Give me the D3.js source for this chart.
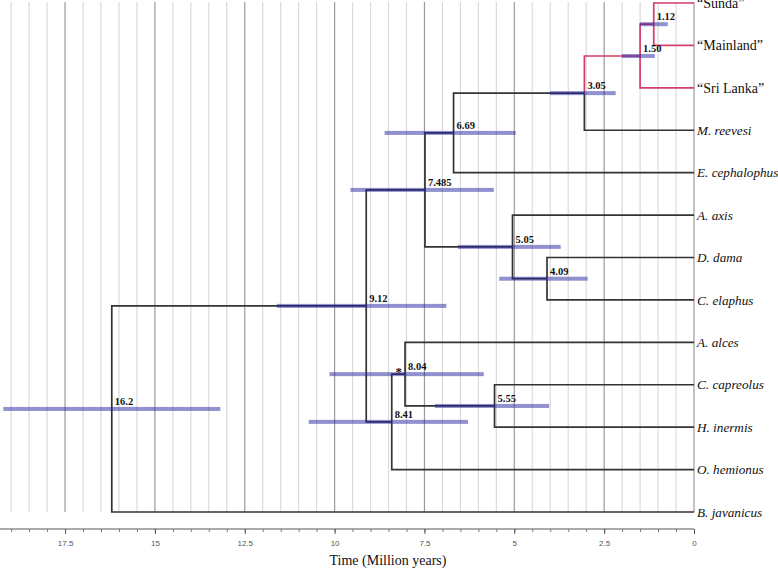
<!DOCTYPE html>
<html>
<head>
<meta charset="utf-8">
<script src="https://cdn.jsdelivr.net/npm/d3@7"></script>
<style>
  html, body { margin: 0; padding: 0; background: #fff; }
  svg { display: block; }
</style>
</head>
<body>
<svg id="chart" width="778" height="570"></svg>
<script>
// ---------------- DATA ----------------
const tipNames = ["\u201cSunda\u201d", "\u201cMainland\u201d", "\u201cSri Lanka\u201d", "M. reevesi", "E. cephalophus",
  "A. axis", "D. dama", "C. elaphus", "A. alces", "C. capreolus", "H. inermis", "O. hemionus", "B. javanicus"];
const tipItalic = [false, false, false, true, true, true, true, true, true, true, true, true, true];
const tipParent = [0, 0, 1, 2, 3, 5, 6, 6, 8, 9, 9, 10, 11];

const nodeLabels = ["1.12", "1.50", "3.05", "6.69", "7.485", "5.05", "4.09", "9.12", "8.04", "5.55", "8.41", "16.2"];
const nodeAges   = [1.12, 1.50, 3.05, 6.69, 7.485, 5.05, 4.09, 9.12, 8.04, 5.55, 8.41, 16.2];
const nodeParent = [1, 2, 3, 4, 7, 4, 5, 11, 10, 8, 7, -1];
const ciLow  = [0.73, 1.09, 2.18, 4.96, 5.57, 3.71, 2.96, 6.89, 5.85, 4.03, 6.29, 13.18];
const ciHigh = [1.50, 2.01, 4.01, 8.61, 9.56, 6.57, 5.42, 11.61, 10.14, 7.21, 10.72, 19.22];
const starNodes = [8];            // node marked with *
const redTips = [0, 1, 2];
const redNodes = [0, 1];

const majorTicks = [17.5, 15, 12.5, 10, 7.5, 5, 2.5, 0];
const majorTickLabels = ["17.5", "15", "12.5", "10", "7.5", "5", "2.5", "0"];
const minorTicks = d3.range(0, 19.01, 0.5);
const axisTitle = "Time (Million years)";

// ---------------- LAYOUT ----------------
const svg = d3.select("#chart");
const x = d3.scaleLinear().domain([19.31, 0]).range([0, 694]);
const y = d3.scalePoint().domain(d3.range(tipNames.length)).range([3, 512]);

const BLACK = "#333333";
const RED = "#d63c68";

// grid lines
const gridTop = 2, gridBottom = 512;
svg.append("g").selectAll("line").data(minorTicks).join("line")
  .attr("x1", d => x(d)).attr("x2", d => x(d))
  .attr("y1", gridTop).attr("y2", gridBottom)
  .attr("stroke", d => (Math.abs(d / 2.5 - Math.round(d / 2.5)) < 1e-6) ? "#9a9a9a" : "#dadada")
  .attr("stroke-width", 1.2);

// compute node geometry
const nNodes = nodeAges.length;
const nodeY = new Array(nNodes);
const childrenOf = d3.range(nNodes).map(() => []);
tipParent.forEach((p, i) => childrenOf[p].push({type: "tip", i}));
nodeParent.forEach((p, i) => { if (p >= 0) childrenOf[p].push({type: "node", i}); });
function childY(c) { return c.type === "tip" ? y(c.i) : getNodeY(c.i); }
function childX(c) { return c.type === "tip" ? x(0) : x(nodeAges[c.i]); }
function getNodeY(i) {
  if (nodeY[i] === undefined) {
    const ys = childrenOf[i].map(childY);
    nodeY[i] = (d3.min(ys) + d3.max(ys)) / 2;
  }
  return nodeY[i];
}
d3.range(nNodes).forEach(getNodeY);

function isRed(c) { return c.type === "tip" ? redTips.includes(c.i) : redNodes.includes(c.i); }

// branches: for each node, elbow to each child
const branchG = svg.append("g").attr("fill", "none").attr("stroke-width", 1.7);
d3.range(nNodes).forEach(i => {
  const nx = x(nodeAges[i]), ny = nodeY[i];
  childrenOf[i].forEach(c => {
    const cy = childY(c), cx = childX(c);
    branchG.append("path")
      .attr("d", `M${nx},${ny}V${cy}H${cx}`)
      .attr("stroke", isRed(c) ? RED : BLACK)
      .attr("stroke-linejoin", "miter");
  });
});

// CI bars
svg.append("g").selectAll("rect").data(d3.range(nNodes)).join("rect")
  .attr("x", i => x(ciHigh[i]))
  .attr("width", i => x(ciLow[i]) - x(ciHigh[i]))
  .attr("y", i => nodeY[i] - 2)
  .attr("height", 4)
  .attr("fill", "#2424a0")
  .attr("fill-opacity", 0.5);

// node labels
svg.append("g").selectAll("text").data(d3.range(nNodes)).join("text")
  .attr("x", i => x(nodeAges[i]) + 3)
  .attr("y", i => nodeY[i] - 4)
  .attr("font-family", "Liberation Serif, serif")
  .attr("font-weight", "bold")
  .attr("font-size", 10.5)
  .attr("fill", "#111")
  .text(i => nodeLabels[i]);

svg.append("g").selectAll("text").data(starNodes).join("text")
  .attr("x", i => x(nodeAges[i]) - 3)
  .attr("y", i => nodeY[i] + 2)
  .attr("text-anchor", "end")
  .attr("font-family", "Liberation Serif, serif")
  .attr("font-weight", "bold")
  .attr("font-size", 13)
  .attr("fill", "#111")
  .text("*");

// tip labels
svg.append("g").selectAll("text").data(d3.range(tipNames.length)).join("text")
  .attr("x", x(0) + 3)
  .attr("y", i => y(i))
  .attr("dy", "0.35em")
  .attr("font-family", "Liberation Serif, serif")
  .attr("font-style", i => tipItalic[i] ? "italic" : "normal")
  .attr("font-size", i => tipItalic[i] ? 13.2 : 14)
  .attr("fill", "#111")
  .text(i => tipNames[i]);

// axis
const axisY = 529;
const minorAxis = d3.axisBottom(x).tickValues(minorTicks).tickSize(3).tickFormat("");
const gMinor = svg.append("g").attr("transform", `translate(0,${axisY})`).call(minorAxis);
gMinor.select(".domain").attr("d", `M0,0H${x(0)}`).attr("stroke", "#555").attr("stroke-width", 1.2);
gMinor.selectAll(".tick line").attr("stroke", "#777");

const majorAxis = d3.axisBottom(x).tickValues(majorTicks).tickSize(5)
  .tickFormat((d, i) => majorTickLabels[i]);
const gMajor = svg.append("g").attr("transform", `translate(0,${axisY})`).call(majorAxis);
gMajor.select(".domain").remove();
gMajor.selectAll(".tick line").attr("stroke", "#555");
gMajor.selectAll(".tick text")
  .attr("font-family", "Liberation Sans, Arial, sans-serif")
  .attr("font-size", 8)
  .attr("fill", "#555")
  .attr("dy", "1.1em");

svg.append("text")
  .attr("x", 388).attr("y", 565)
  .attr("text-anchor", "middle")
  .attr("font-family", "Liberation Serif, serif")
  .attr("font-size", 14)
  .attr("fill", "#111")
  .text(axisTitle);
</script>
</body>
</html>
